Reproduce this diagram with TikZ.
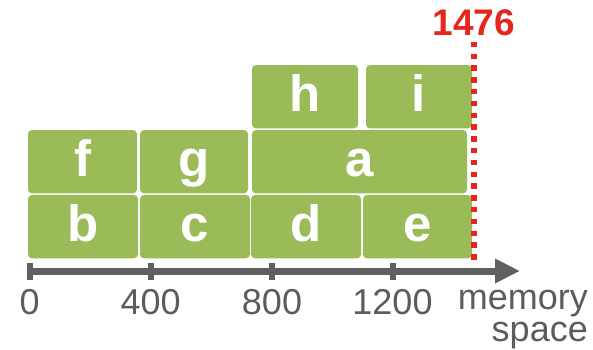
\documentclass[tikz,border=0pt]{standalone}
\usepackage{fontspec}
\setmainfont{Liberation Sans}
\usetikzlibrary{arrows.meta}
\definecolor{blkgreen}{RGB}{155,187,89}
\definecolor{axgray}{RGB}{96,96,96}
\definecolor{lblgray}{RGB}{92,92,92}
\definecolor{limred}{RGB}{228,38,28}
\tikzset{
  blk/.style={fill=blkgreen, draw=none, rounded corners=4pt, inner sep=0pt,
    minimum height=63.3pt, text height=30pt, text depth=0pt,
    text=white, font=\fontsize{51pt}{51pt}\selectfont\bfseries},
  axisline/.style={draw=axgray, line width=7pt, -{Triangle[length=25pt,width=23pt]}},
  tickmark/.style={draw=axgray, line width=6pt},
  ticklbl/.style={anchor=base, inner sep=0pt, text=lblgray, font=\fontsize{36pt}{36pt}\selectfont},
  axlbl/.style={anchor=base east, inner sep=0pt, align=right, text=lblgray, font=\fontsize{36pt}{32.4pt}\selectfont},
  limitline/.style={draw=limred, line width=5.6pt, dash pattern=on 5.5pt off 6.3pt},
  limitlbl/.style={anchor=base, inner sep=0pt, text=limred, font=\fontsize{37pt}{37pt}\selectfont\bfseries}
}
\begin{document}
\begin{tikzpicture}[x=1pt, y=-1pt]
\path[use as bounding box] (0,0) rectangle (593,349);
% bottom row
\node[blk, minimum width=110pt] (b) at (83,226.7) {b};
\node[blk, minimum width=110pt] (c) at (195,226.7) {c};
\node[blk, minimum width=110pt] (d) at (306,226.7) {d};
\node[blk, minimum width=109pt] (e) at (417.5,226.7) {e};
% middle row
\node[blk, minimum width=109pt] (f) at (82.5,161.7) {f};
\node[blk, minimum width=108pt] (g) at (194,161.7) {g};
\node[blk, minimum width=215pt] (a) at (359.5,161.7) {a};
% top row
\node[blk, minimum width=106pt] (h) at (305,96.7) {h};
\node[blk, minimum width=106pt] (i) at (419,96.7) {i};
% axis
\coordinate (axs) at (26.7,271);
\coordinate (axe) at (520,271);
\draw[axisline] (axs) -- (axe);
\foreach \n/\x in {t0/29.7, t400/150.7, t800/272, t1200/392.5} {
  \coordinate (\n top) at (\x,263);
  \coordinate (\n bot) at (\x,279.5);
  \draw[tickmark] (\n top) -- (\n bot);
}
\node[ticklbl] (l0) at (29.7,314) {0};
\node[ticklbl] (l400) at (150.7,314) {400};
\node[ticklbl] (l800) at (272,314) {800};
\node[ticklbl] (l1200) at (392.5,314) {1200};
\node[axlbl] (mem) at (588,341.7) {memory\\space};
% limit line
\coordinate (limtop) at (473.8,41.7);
\coordinate (limbot) at (473.8,262);
\draw[limitline] (limtop) -- (limbot);
\node[limitlbl] (lim) at (474,35) {1476};
\end{tikzpicture}
\end{document}
